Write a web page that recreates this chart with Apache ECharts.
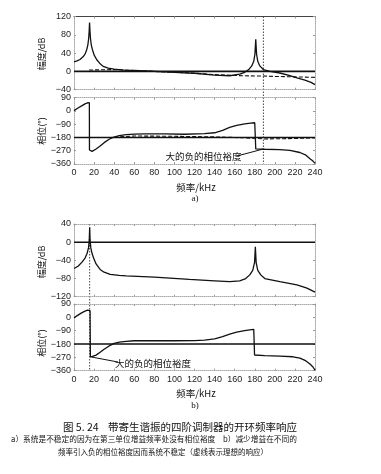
<!DOCTYPE html>
<html><head><meta charset="utf-8">
<script src="https://cdn.jsdelivr.net/npm/echarts@6/dist/echarts.min.js"></script>
<style>html,body{margin:0;padding:0;background:#fff}#c{width:381px;height:474px}</style>
</head><body><div id="c"></div>
<script>
// ---- data (frequency in kHz) ----
const magA_f  = [0,3,6,9,11,12.5,13.8,14.6,15.1,15.5,15.9,16.4,17.2,18.3,20,22.5,25.5,29,34,40,50,60,80,100,120,140,155,165,170,174,177,179,180.2,181,181.8,183,185,188.6,195,205,215,222,230,236,240];
const magA_db = [21,23,26,32,38,46,58,72,88,107,88,72,58,48,36,26,18,11,7,5,3,2,0,-2,-4,-8,-9.5,-6,-2,4,12,22,38,70,38,22,12,4,0,-3.5,-9,-14,-19,-24,-29];
const magAideal_f  = [15,40,60,80,100,120,140,160,180,188,200,220,240];
const magAideal_db = [3,4,2,0,-2,-4,-7,-9,-10,-10,-11,-12,-13];
const phA_f   = [0,4,8,11,13,14.5,15.3,15.4,16.5,18,22,26,30,35,39,45,52,60,70,90,110,130,140,148,155,162,170,176,180,180.8,181,190,205,215,225,231,235,238,240];
const phA_deg = [2,20,36,48,54,58,56,-265,-272,-274,-258,-238,-215,-192,-179,-168,-161,-157,-155,-156,-158,-154,-148,-132,-112,-98,-88,-83,-80,-82,-258,-260,-263,-268,-282,-300,-325,-340,-356];
const phAideal_f   = [40,60,100,140,170,190,210,240];
const phAideal_deg = [-178,-170,-172,-176,-182,-190,-188,-183];
const magB_f  = [0,4,8,11,13,14.5,15.2,15.6,16,16.7,18,19.5,22,26,30,36,45,52,80,115,140,155,165,171,175,178,179.8,180.6,181.4,183,186,190,205,222,232,240];
const magB_db = [-58,-53,-44,-35,-25,-12,5,32,5,-12,-25,-35,-48,-60,-66,-71,-73,-74,-77,-82,-85,-87,-85,-80,-72,-62,-45,-10,-45,-62,-72,-80,-87,-94,-101,-110];
const phB_f   = [0,4,8,11,13.5,15,16,16.3,17.6,22,26,30,35,40,45,52,60,80,100,120,130,140,148,155,162,170,175,179,179.6,179.8,190,205,218,225,230,235,238,240];
const phB_deg = [-3,15,32,42,48,50,45,-268,-272,-255,-236,-215,-193,-176,-167,-162,-158,-157,-158,-157,-154,-145,-130,-113,-100,-90,-85,-81,-82,-254,-258,-262,-266,-275,-290,-315,-335,-356];
const unityLine_db = 0, refPhase = -180;
const crossA = 188.6, crossB = 15.6;
const annA = [188.6, -258], annB = [17.6, -268];
const xTicks = {min:0, max:240, interval:20};
const magAticks = {min:-40, max:120, interval:40};
const magBticks = {min:-120, max:40, interval:40};
const phTicks = {min:-360, max:90, interval:90};

const zip = (a,b) => a.map((v,i)=>[v,b[i]]);
const FONT = 'Liberation Sans';
const CJK = 'Noto Sans CJK SC';
const grids = [
  {left:74, top:16.5, width:241, height:73.2},
  {left:74, top:97.7, width:241, height:66.3},
  {left:74, top:224, width:241, height:72.7},
  {left:74, top:304, width:241, height:66.7}
];
const yRanges = [magAticks, phTicks, magBticks, phTicks];
const frame = {color:'#aaa', type:'dotted', width:1};
const xAxis = [], yAxis = [];
grids.forEach((g,i)=>{
  const phase = (i%2===1);
  xAxis.push({gridIndex:i, type:'value', position:'bottom', ...xTicks,
    axisLine:{show:true, onZero:false, lineStyle:frame},
    axisTick:{show:true, inside:true, length:2, lineStyle:{color:'#999'}},
    axisLabel:{show:phase, fontFamily:FONT, fontSize:9, color:'#222', margin:4},
    splitLine:{show:false}});
  xAxis.push({gridIndex:i, type:'value', position:'top', ...xTicks,
    axisLine:{show:true, onZero:false, lineStyle: i===0 ? {color:'#444', width:1.2} : frame},
    axisTick:{show:true, inside:true, length:2, lineStyle:{color:'#999'}},
    axisLabel:{show:false}, splitLine:{show:false}});
  yAxis.push({gridIndex:i, type:'value', position:'left', ...yRanges[i],
    axisLine:{show:true, onZero:false, lineStyle:frame},
    axisTick:{show:true, inside:true, length:2, lineStyle:{color:'#999'}},
    axisLabel:{fontFamily:FONT, fontSize:9, color:'#222', margin:3,
      formatter:v=>String(v).replace('-','\u2212')},
    splitLine:{show:false}});
  yAxis.push({gridIndex:i, type:'value', position:'right', ...yRanges[i],
    axisLine:{show:true, onZero:false, lineStyle:frame},
    axisTick:{show:true, inside:true, length:2, lineStyle:{color:'#999'}},
    axisLabel:{show:false}, splitLine:{show:false}});
});
function line(gi, data, opts){
  return Object.assign({type:'line', xAxisIndex:2*gi, yAxisIndex:2*gi, data, showSymbol:false, symbol:'none',
    silent:true, animation:false, clip:true,
    lineStyle:{color:'#111', width:1.3}}, opts||{});
}
const series = [
  line(0, [[xTicks.min,unityLine_db],[xTicks.max,unityLine_db]], {lineStyle:{color:'#111', width:1.6}}),
  line(0, zip(magAideal_f, magAideal_db), {lineStyle:{color:'#111', width:1.1, type:[4,2]}}),
  line(0, zip(magA_f, magA_db)),
  line(1, [[xTicks.min,refPhase],[xTicks.max,refPhase]], {lineStyle:{color:'#111', width:1.4}}),
  line(1, zip(phAideal_f, phAideal_deg), {lineStyle:{color:'#111', width:1.1, type:[4,2]}}),
  line(1, zip(phA_f, phA_deg)),
  line(2, [[xTicks.min,unityLine_db],[xTicks.max,unityLine_db]], {lineStyle:{color:'#111', width:1.6}}),
  line(2, zip(magB_f, magB_db)),
  line(3, [[xTicks.min,refPhase],[xTicks.max,refPhase]], {lineStyle:{color:'#111', width:1.4}}),
  line(3, zip(phB_f, phB_deg))
];
const chart = echarts.init(document.getElementById('c'), null, {renderer:'canvas'});
chart.setOption({animation:false, backgroundColor:'#fff', grid:grids, xAxis, yAxis, series});

// pixel helpers from axes
const px = (gi, pt) => chart.convertToPixel({xAxisIndex:2*gi, yAxisIndex:2*gi}, pt);
const vA0 = px(0, [crossA, magAticks.max]), vA1 = px(1, [crossA, phTicks.min]);
const vB0 = px(2, [crossB, magBticks.max]), vB1 = px(3, [crossB, phTicks.min]);
const aA = px(1, annA), aB = px(3, annB);
const txt = (x,y,s,size,extra) => Object.assign({type:'text', x, y, silent:true,
  style:{text:s, fontFamily:CJK, fontSize:size, fill:'#111', textAlign:'center', textVerticalAlign:'middle'}}, extra||{});
const rot = (x,y,s) => ({type:'text', x, y, rotation:Math.PI/2, silent:true,
  style:{text:s, fontFamily:CJK, fontSize:9, fill:'#111', textAlign:'center', textVerticalAlign:'middle'}});
const dotted = {stroke:'#444', lineWidth:1, lineDash:[1.5,1.5]};
chart.setOption({graphic:[
  {type:'line', silent:true, shape:{x1:vA0[0], y1:vA0[1], x2:vA1[0], y2:vA1[1]}, style:dotted},
  {type:'line', silent:true, shape:{x1:vB0[0], y1:vB0[1], x2:vB1[0], y2:vB1[1]}, style:dotted},
  {type:'line', silent:true, shape:{x1:237, y1:156, x2:aA[0], y2:aA[1]}, style:{stroke:'#111', lineWidth:1}},
  {type:'line', silent:true, shape:{x1:118, y1:362, x2:aB[0], y2:aB[1]}, style:{stroke:'#111', lineWidth:1}},
  txt(203.5,156.7,'大的负的相位裕度',9.5),
  txt(153,363,'大的负的相位裕度',9.5),
  rot(42,54,'幅度/dB'),
  rot(42,131,'相位(°)'),
  rot(42,262,'幅度/dB'),
  rot(42,343,'相位(°)'),
  txt(196,187,'频率/kHz',9.5),
  txt(196,393,'频率/kHz',9.5),
  txt(195,199,'a)',9,{style:{text:'a)', fontFamily:'Liberation Serif', fontSize:9, fill:'#111', textAlign:'center', textVerticalAlign:'middle'}}),
  txt(195,406,'b)',9,{style:{text:'b)', fontFamily:'Liberation Serif', fontSize:9, fill:'#111', textAlign:'center', textVerticalAlign:'middle'}}),
  txt(180,427,'图 5. 24    带寄生谐振的四阶调制器的开环频率响应',10.5),
  txt(154,439,'a）系统是不稳定的因为在第三单位增益频率处没有相位裕度　b）减少增益在不同的',7.7),
  txt(163,452,'频率引入负的相位裕度因而系统不稳定（虚线表示理想的响应）',7.5)
]});
</script></body></html>
